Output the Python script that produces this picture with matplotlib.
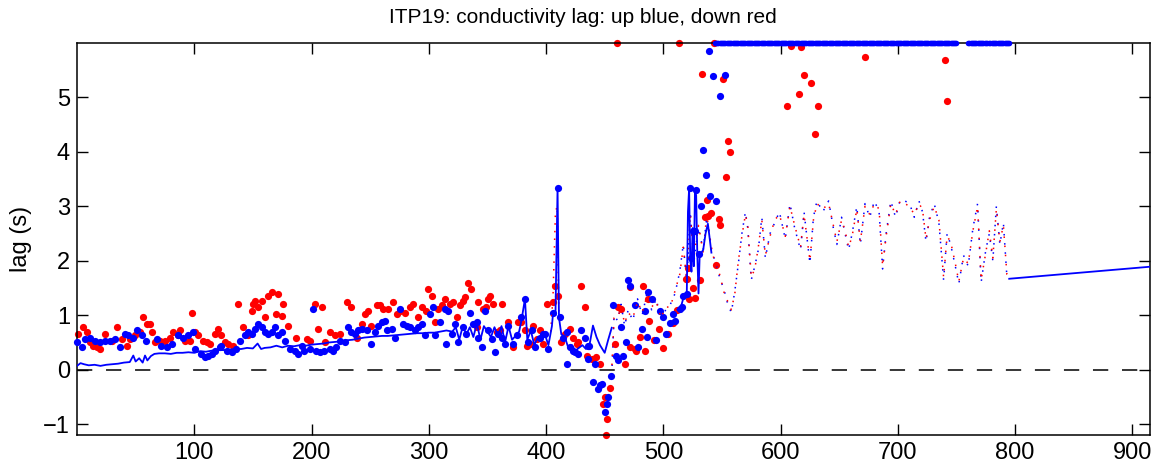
import numpy as np
import matplotlib
matplotlib.use('Agg')
import matplotlib.pyplot as plt

plt.rcParams['font.family'] = ['Liberation Sans', 'DejaVu Sans']

# profile number vs lag (s), upgoing profiles (blue dots)
up_x = [0, 4, 6.8, 11, 15, 19.6, 23.9, 28, 32, 36.7, 41, 43.7, 48, 51, 55, 59, 68, 72, 76.5, 80.7,
        86.4, 90.6, 95, 99, 100.6, 106, 109, 112, 115, 117.6, 122, 123, 127.6, 132,
        136, 139, 143, 146, 149, 152, 154.6, 157.5, 160, 163, 166, 168.8, 171.6, 174.5, 177, 181.6,
        186, 188.7, 191.6, 194, 198.6, 201.5, 204, 207, 211, 215.7, 218.5, 221, 224, 228.5, 231,
        234, 237, 240, 242.7, 247, 251, 254, 257, 259.7, 262.6,
        264, 268.3, 271, 275.4, 278, 281, 284, 288, 291, 294, 296.7, 301, 303.8, 305, 309.5, 313.7,
        315, 316.5, 319.4, 322, 325, 329, 332, 335, 338, 340.7, 342, 345, 347.8, 350.6, 353.5,
        356.3, 359, 362, 365, 367.7, 372, 374.8, 379, 382, 384.7, 387.6, 390.5, 394.7, 397.5,
        399, 401.8, 406, 409.8, 411.8, 414.6, 417.5, 417.5, 420.3, 423, 424.5, 427.4, 430, 433,
        436, 437, 436, 441.6, 440, 444.4, 445.9, 447.3, 450, 451.6, 453, 455.8, 457.2, 460, 461.4,
        464.3, 465.7, 468, 470, 471.4, 475.7, 478.5,
        482, 484, 486, 487, 490, 494, 497, 500, 502, 506, 508, 510, 514, 515.5, 517, 520, 522.6,
        524, 525.4, 527, 528, 530, 532.5, 534, 536, 538.8, 540, 542.5, 544.5, 548.2, 552.4]
up_lag = [0.50, 0.41, 0.56, 0.59, 0.53, 0.50, 0.53, 0.53, 0.56, 0.41, 0.66, 0.63, 0.59, 0.72, 0.63,
          0.53, 0.56, 0.44, 0.41, 0.47, 0.63, 0.59, 0.63, 0.69, 0.38, 0.29, 0.23, 0.26, 0.29, 0.35,
          0.41, 0.44, 0.35, 0.32,
          0.38, 0.53, 0.63, 0.69, 0.66, 0.75, 0.84, 0.78, 0.69, 0.66, 0.69, 0.78, 0.63, 0.69, 0.53,
          0.38, 0.35, 0.29, 0.44, 0.35, 0.38, 1.12, 0.35, 0.32, 0.35, 0.38, 0.35, 0.41, 0.53, 0.50,
          0.78, 0.69, 0.66, 0.72, 0.75, 0.72, 0.47, 0.69, 0.81, 0.87, 0.90,
          0.72, 0.75, 0.59, 1.12, 0.84, 0.81, 0.78, 0.72, 0.78, 0.84, 0.63, 1.02, 1.15, 0.63, 0.87,
          1.12, 0.47, 1.08, 0.66, 0.84, 0.50, 0.78, 0.66, 1.05, 0.84, 0.87, 0.59, 0.41, 1.08, 0.72,
          0.56, 0.32, 0.66, 0.59, 0.47, 0.81, 0.47, 0.63, 0.96, 1.30, 0.50, 0.72, 0.41, 0.59, 0.66,
          0.66, 0.38, 1.05, 3.34, 0.96, 0.59, 0.69, 0.10, 0.41, 0.35, 0.32, 0.29, 0.72, 0.59,
          0.44, 0.44, 0.20, 0.10, -0.23, -0.35, -0.29, -0.26, -0.78, -0.63, -0.51, -0.11, 1.18,
          0.26, 0.17, 0.78, 0.26, 0.50, 1.64, 1.54, 1.18, 0.41,
          0.75, 1.08, 0.60, 1.42, 1.30, 0.55, 1.08, 0.96, 0.65, 0.85, 1.02, 0.90, 1.12, 1.15, 1.36,
          1.39, 3.33, 2.06, 2.54, 2.55, 3.30, 2.13, 3.01, 4.03, 3.57, 5.85, 3.19, 5.39, 3.10, 5.02,
          5.42]

# downgoing profiles (red dots)
down_x = [1.1, 5.4, 8.2, 11, 14, 16.8, 19.6, 24, 29.6, 33.8, 38, 42.4, 45, 49.4, 53.7, 56.5, 59.4,
          62, 63.7, 66.5, 70.8, 75, 79, 82, 86.4, 87.8, 92, 96, 97.8, 100.6, 103.4, 107.7, 110.5,
          113, 117.6, 120.5, 123, 126, 129, 133,
          137.5, 141.8, 146, 149, 150.3, 151.7, 154.6, 157.5, 160, 163, 166, 170, 171.6, 174.5, 176,
          180, 187, 195.8, 198.6, 203, 205.7, 208.6, 211.4, 215.7, 220, 224, 230, 234, 238.5,
          242.7, 245.5, 248.3, 251, 255.5, 258, 261,
          265.4, 269.6, 272.5, 275.4, 279.6, 284, 286.7, 291, 294, 298, 299.5, 302.4, 305, 308, 311,
          313.7, 318, 320.8, 323.7, 326.5, 329.3, 330.8, 333.6, 336, 340.7, 342, 346.4, 349, 350.6,
          352, 355, 357.8, 360.6, 362, 367.7, 372, 376, 379, 382, 383.4, 386, 389, 392, 394.7, 397.5,
          400.4, 406, 407.5, 410.3, 413, 416, 420.3, 423, 426, 427.4, 430, 433, 434.5, 438.8, 443,
          445.9, 448.7, 450, 451.6, 451, 454.4, 458.6, 460.6, 461.4, 464.3, 467.2, 471.4, 471.4,
          475.7, 477,
          480, 482.8, 484, 487, 488, 492, 496, 500, 504, 508, 512, 513.2, 519, 520, 521, 522, 525.4,
          527, 531, 533, 535.4, 537.3, 538, 541, 543, 545.3, 547.3, 548, 551, 553.3, 555.3, 557,
          605.5, 609, 615.8, 617.8, 619.8, 626, 629.7, 632, 671.8, 740, 742]
down_lag = [0.66, 0.78, 0.69, 0.50, 0.44, 0.41, 0.38, 0.66, 0.53, 0.78, 0.56, 0.44, 0.56, 0.63,
            0.69, 0.96, 0.84, 0.84, 0.69, 0.50, 0.53, 0.53, 0.59, 0.69, 0.63, 0.72, 0.53, 0.53,
            1.05, 0.69, 0.63, 0.53, 0.50, 0.47, 0.66, 0.75, 0.63, 0.50, 0.47, 0.44,
            1.21, 0.78, 0.63, 1.08, 1.21, 1.27, 1.15, 1.27, 0.96, 1.36, 1.42, 1.02, 1.39, 0.99, 1.21,
            0.81, 0.59, 0.56, 0.53, 1.21, 0.75, 1.15, 0.50, 0.69, 0.63, 0.66, 1.24, 1.15, 0.59,
            0.84, 1.02, 1.08, 0.81, 1.18, 1.18, 1.12,
            1.12, 1.24, 1.02, 1.08, 1.05, 1.15, 1.21, 0.96, 1.15, 1.08, 1.48, 1.36, 0.87, 1.12, 1.18,
            1.30, 1.21, 1.24, 0.96, 1.18, 1.27, 1.33, 1.60, 1.48, 0.78, 1.24, 1.12, 1.15, 1.30,
            1.36, 1.21, 0.69, 0.72, 1.21, 0.87, 0.41, 0.87, 0.87, 0.72, 0.44, 0.47, 0.81, 0.56,
            0.72, 0.47,
            1.21, 1.24, 1.54, 1.36, 0.50, 0.66, 0.75, 0.59, 0.47, 0.50, 1.54, 1.15, 0.26, 0.20, 0.23,
            0.10, -0.63, -0.51, -0.91, -1.2, -0.33, 0.47, 6.0, 1.15, 1.12, 0.10, 0.41, 1.51,
            0.38, 0.35,
            0.60, 1.53, 0.35, 1.30, 0.90, 0.55, 0.75, 0.40, 0.65, 0.85, 1.10, 6.0, 1.67, 1.67, 1.87,
            1.30, 1.50, 1.32, 1.64, 5.43, 2.80, 3.12, 2.83, 2.87, 6.0, 1.92, 2.77, 2.65, 5.33, 3.53,
            4.20, 4.00,
            4.85, 5.94, 5.06, 5.93, 5.42, 5.27, 4.33, 4.85, 5.74, 5.69, 4.93]

# upgoing profiles with lag off the top of the scale (drawn at 6)
top_up_ranges = [(544, 750), (760, 776), (778, 795)]

# smoothed upgoing lag (solid blue line), NaN = gap
line_x = [0, 3, 6, 10, 15, 20, 25, 30, 35, 40, 45, 48, 50, 53, 56, 58, 60, 63, 66, 70, 75, 80, 85,
          90, 95, 100, 105, 110, 115, 120, 125, 130, 135, 140, 145, 150, 154, 157, 160, 165, 170,
          175, 180, 185, 190, 195, 200, 205, 210, 215, 220, 225, 230, 235, 240, 245, 250, 255, 260,
          265, 270, 275, 280, 285, 290, 295, 300, 305, 310, 315, 320, 323, 326, 329, 332, 335, 338,
          341, 344, 347, 350, 353, 356, 359, 362, 365, 368, 371, 374, 377, 379, 382, 384, 387, 390,
          393, 396, 399, 402, 405, 406, 408, 409.8, 411, 413, 416, 419, 422, 425, 428, 431, 434,
          437, 440, 443, 446, 450, 453, 456, 460,
          512, 515, 518, 520, 521, 522, 523, 524, 525, 526, 527, 528, 529, 530, 531, 534, 536, 538,
          541]
line_lag = [0.07, 0.12, 0.10, 0.08, 0.09, 0.07, 0.09, 0.10, 0.11, 0.13, 0.14, 0.26, 0.15, 0.21,
            0.13, 0.26, 0.17, 0.25, 0.29, 0.30, 0.30, 0.29, 0.31, 0.31, 0.32, 0.31, 0.34, 0.33,
            0.35, 0.36, 0.36, 0.37, 0.38, 0.38, 0.40, 0.39, 0.48, 0.38, 0.40, 0.41, 0.44, 0.41,
            0.44, 0.43, 0.45, 0.44, 0.46, 0.47, 0.48, 0.50, 0.51, 0.52, 0.54, 0.55, 0.57, 0.59,
            0.60, 0.61, 0.62, 0.62, 0.63, 0.64, 0.65, 0.66, 0.67, 0.67, 0.68, 0.68, 0.70, 0.72,
            0.70, 0.78, 0.55, 0.80, 0.65, 0.78, 0.60, 0.85, 0.55, 0.80, 0.70, 0.60, 0.78, 0.62,
            0.80, 0.50, 0.80, 0.55, 0.62, 0.70, 0.90, 1.30, 0.55, 0.72, 0.45, 0.60, 0.55, 0.65,
            0.45, 0.80, 1.05, 1.00, 3.34, 0.96, 0.65, 0.60, 0.40, 0.45, 0.35, 0.40, 0.45, 0.38,
            0.45, 0.81, 0.60, 0.45, 0.31, 0.55, 0.77, np.nan,
            1.10, 1.15, 1.39, 1.40, 2.90, 3.33, 2.00, 1.80, 2.60, 1.90, 3.30, 3.20, 2.10, 1.40,
            2.10, 2.20, 2.50, 2.68, 2.15]

# late-record fit (solid blue line at right)
tail_x = [795, 920]
tail_lag = [1.67, 1.90]

# dotted up/down traces
dot_x = [456, 458, 461, 464, 467, 470, 474, 478, 482, 486, 490, 494, 498, 502, 506, 510, 514, 517,
         520, 523, 526, 530, 534, 537, 541, 544, 548, 552, 555, 558, 561, 564, 567, 570, 572, 575,
         578, 581, 584, 587, 591, 595, 599, 604, 608, 612, 617, 620, 625, 628, 631, 636, 641, 645,
         648, 652, 655, 658, 661, 665, 668, 672, 676, 680, 684, 687, 690, 694, 698, 702, 706, 710,
         714, 718, 721, 724, 727, 731, 735, 739, 742, 745, 749, 752, 756, 760, 764, 768, 771, 775,
         778, 781, 784, 787, 790, 793, 795]
dot_up = [-0.10, 1.00, 0.90, 1.20, 0.80, 1.10, 0.90, 1.30, 1.00, 1.40, 1.10, 1.30, 0.90, 1.10,
          1.20, 1.40, 1.80, 2.30, 1.60, 2.90, 2.00, 2.60, 2.20, 2.80, 2.20, 2.00, 1.70, 1.45, 1.20,
          1.05, 1.45, 1.95, 2.50, 2.90, 2.60, 1.65, 1.90, 2.20, 2.80, 2.05, 2.50, 2.70, 2.90, 2.40,
          3.05, 2.60, 2.20, 2.90, 1.95, 2.80, 3.10, 2.90, 3.10, 2.60, 2.30, 2.80, 2.50, 2.20, 2.50,
          3.00, 2.30, 3.05, 2.80, 3.10, 2.90, 1.85, 2.50, 3.10, 2.80, 3.12, 3.10, 3.05, 2.80, 3.10,
          2.90, 2.35, 2.80, 3.05, 2.70, 1.65, 2.50, 2.30, 1.90, 1.58, 2.10, 1.90, 2.60, 3.05, 1.60,
          2.20, 2.50, 2.00, 3.00, 2.30, 2.70, 1.70, 1.67]
dot_down = [0.00, 0.95, 0.95, 1.15, 0.85, 1.05, 0.95, 1.25, 1.05, 1.35, 1.15, 1.25, 0.95, 1.15,
            1.15, 1.45, 1.75, 2.25, 1.65, 2.85, 2.05, 2.65, 2.15, 2.85, 2.25, 1.95, 1.75, 1.40,
            1.25, 1.10, 1.40, 2.00, 2.45, 2.85, 2.65, 1.70, 1.85, 2.25, 2.75, 2.10, 2.45, 2.75,
            2.85, 2.45, 3.00, 2.65, 2.25, 2.85, 2.00, 2.75, 3.05, 2.95, 3.05, 2.65, 2.35, 2.75,
            2.55, 2.25, 2.45, 2.95, 2.35, 3.00, 2.85, 3.05, 2.95, 1.90, 2.45, 3.05, 2.85, 3.10,
            3.05, 3.00, 2.85, 3.05, 2.95, 2.40, 2.75, 3.00, 2.75, 1.70, 2.45, 2.35, 1.95, 1.62,
            2.05, 1.95, 2.55, 3.00, 1.65, 2.15, 2.55, 2.05, 2.95, 2.35, 2.65, 1.75, 1.70]

# red dotted spike at ~409
spike_x = [404, 406, 408, 409.5, 411]
spike_down = [0.70, 1.40, 2.90, 3.00, 0.90]


def main():
    fig = plt.figure(figsize=(11.65, 4.73), dpi=100)
    ax = fig.add_axes([0.0661, 0.0803, 0.921, 0.8288])

    # zero reference
    ax.axhline(0, color='k', lw=1.1, linestyle=(0, (10, 9)), zorder=1)

    # dots
    ax.plot(down_x, down_lag, 'o', color='r', ms=5.2, mew=0, clip_on=False, zorder=2)
    ax.plot(up_x, up_lag, 'o', color='b', ms=5.2, mew=0, clip_on=False, zorder=3)
    top_x = np.concatenate([np.arange(a, b + 1, 1.0) for a, b in top_up_ranges])
    ax.plot(top_x, np.full(len(top_x), 6.0), 'o', color='b', ms=4.0, mew=0,
            clip_on=False, zorder=3)

    # dotted traces
    ax.plot(dot_x, dot_up, color='b', lw=1.1, linestyle=(0, (1, 5)), zorder=4)
    ax.plot(dot_x, dot_down, color='r', lw=1.1, linestyle=(3, (1, 5)), zorder=4)
    ax.plot(spike_x, spike_down, color='r', lw=1.1, linestyle=(0, (1, 4)), zorder=4)

    # solid lines
    ax.plot(line_x, line_lag, color='b', lw=1.3, zorder=5)
    ax.plot(tail_x, tail_lag, color='b', lw=1.3, zorder=5)

    ax.set_xlim(0, 915)
    ax.set_ylim(-1.2, 6.0)
    ax.set_xticks(range(100, 901, 100))
    ax.set_yticks(range(-1, 6))
    ax.tick_params(direction='in', length=8, width=1, top=True, right=True,
                   labelsize=17, pad=5)
    for s in ax.spines.values():
        s.set_linewidth(1.1)

    fig.text(0.5, 0.962, 'ITP19: conductivity lag: up blue, down red',
             ha='center', va='center', fontsize=15)
    fig.text(0.018, 0.495, 'lag (s)', rotation=90, ha='center', va='center',
             fontsize=17)

    fig.savefig('out.png', dpi=100)


if __name__ == '__main__':
    main()
